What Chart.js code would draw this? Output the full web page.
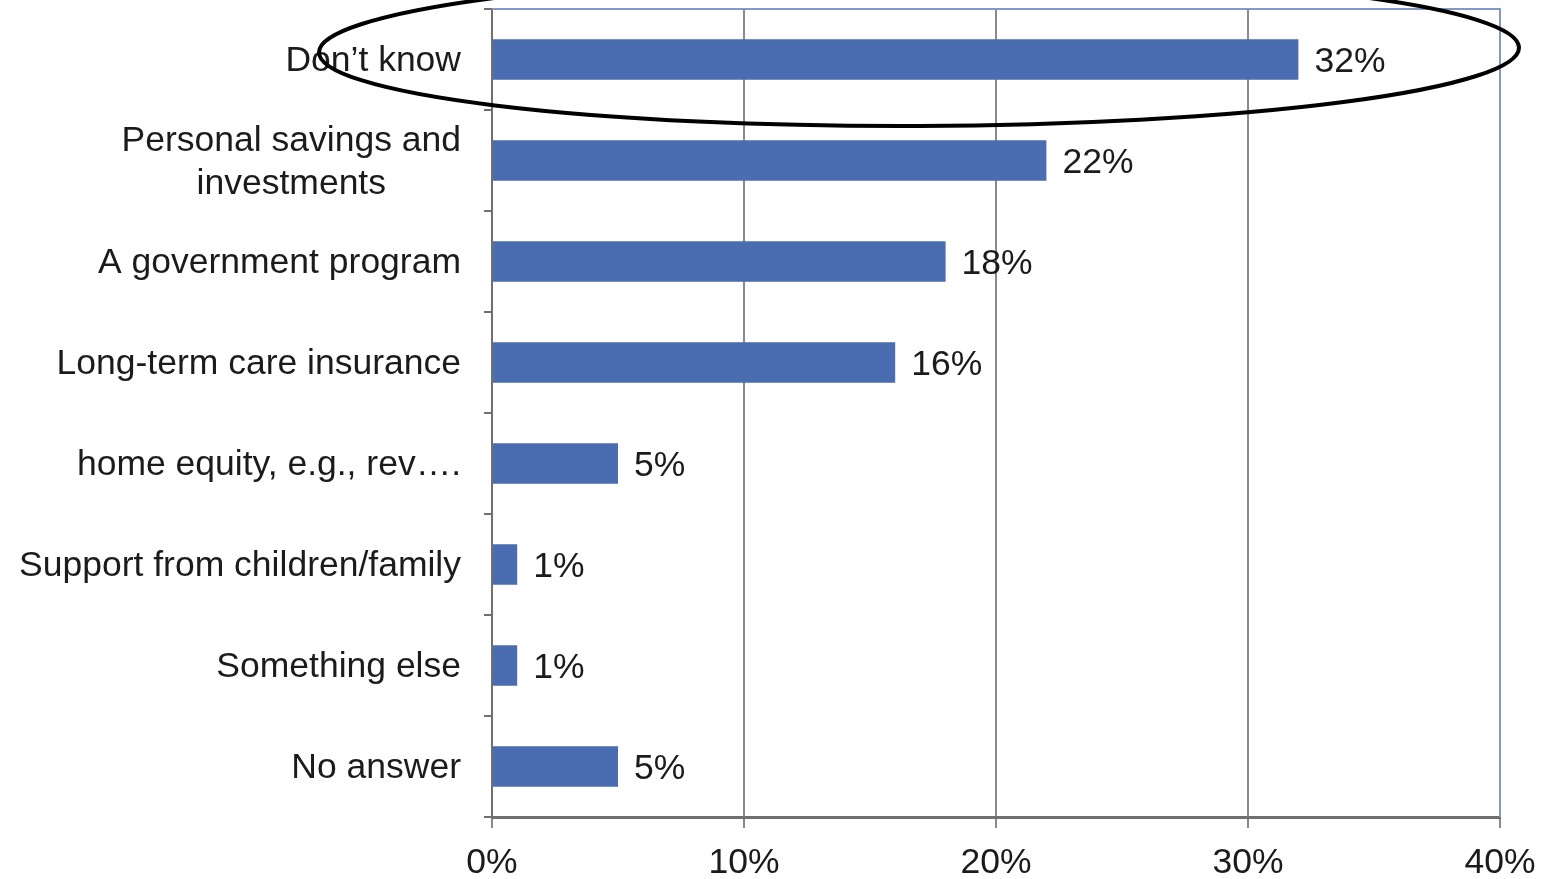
<!DOCTYPE html>
<html>
<head>
<meta charset="utf-8">
<script src="https://cdn.jsdelivr.net/npm/chart.js@4/dist/chart.umd.min.js"></script>
<style>
html,body{margin:0;padding:0;background:#fff;}
#wrap{width:1546px;height:879px;}
</style>
</head>
<body>
<div id="wrap"><canvas id="c" width="1546" height="879"></canvas></div>
<script>
const categories = [
  "Don’t know",
  ["Personal savings and", "investments"],
  "A government program",
  "Long-term care insurance",
  "home equity, e.g., rev….",
  "Support from children/family",
  "Something else",
  "No answer"
];
const values = [32, 22, 18, 16, 5, 1, 1, 5];
const xTicks = [0, 10, 20, 30, 40];

const FONT = "'Liberation Sans', Arial, sans-serif";
const FSIZE = 35.5;
const TEXT = "#1b1b1b";

const labelPlugin = {
  id: 'labels',
  afterDraw(chart) {
    const ctx = chart.ctx;
    const yScale = chart.scales.y;
    const meta = chart.getDatasetMeta(0);
    ctx.save();
    ctx.font = FSIZE + "px " + FONT;
    ctx.fillStyle = TEXT;
    ctx.textBaseline = 'middle';
    // value labels
    meta.data.forEach((bar, i) => {
      ctx.textAlign = 'left';
      ctx.fillText(values[i] + '%', bar.x + 16, bar.y + 3);
    });
    // category labels
    const rightEdge = yScale.left + yScale.width - 31;
    categories.forEach((lab, i) => {
      const yc = yScale.getPixelForValue(i);
      if (Array.isArray(lab)) {
        const widths = lab.map(l => ctx.measureText(l).width);
        const maxW = Math.max(...widths);
        const cx = rightEdge - maxW / 2;
        const lh = 43;
        const start = yc - (lab.length - 1) * lh / 2;
        ctx.textAlign = 'center';
        lab.forEach((l, k) => ctx.fillText(l, cx, start + k * lh + 2));
      } else {
        ctx.textAlign = 'right';
        ctx.fillText(lab, rightEdge, yc + 2);
      }
    });
    // top and right border
    const a = chart.chartArea;
    ctx.strokeStyle = '#8498c8';
    ctx.lineWidth = 2;
    ctx.beginPath();
    ctx.moveTo(a.left, a.top);
    ctx.lineTo(a.right, a.top);
    ctx.lineTo(a.right, a.bottom);
    ctx.stroke();
    // ellipse annotation
    ctx.strokeStyle = '#000';
    ctx.lineWidth = 4;
    ctx.beginPath();
    ctx.ellipse(919, 50, 600, 76, -0.004, 0, Math.PI * 2);
    ctx.stroke();
    ctx.restore();
  }
};

new Chart(document.getElementById('c'), {
  type: 'bar',
  data: {
    labels: categories,
    datasets: [{
      data: values,
      backgroundColor: '#4a6cb0',
      borderWidth: 0,
      barPercentage: 0.4,
      categoryPercentage: 1.0
    }]
  },
  options: {
    indexAxis: 'y',
    responsive: false,
    animation: false,
    layout: { padding: { top: 9, right: 46, left: 0, bottom: 0 } },
    plugins: { legend: { display: false }, tooltip: { enabled: false } },
    scales: {
      x: {
        min: 0, max: 40,
        afterBuildTicks(scale) { scale.ticks = xTicks.map(v => ({ value: v })); },
        afterFit(scale) { scale.height = 62; scale.paddingLeft = 0; scale.paddingRight = 0; },
        ticks: {
          callback: v => v + '%',
          font: { family: FONT, size: FSIZE },
          color: TEXT,
          padding: 14,
          maxRotation: 0
        },
        grid: {
          color: ctx => (ctx.tick && ctx.tick.value === 40) ? '#8498c8' : '#8a8a8a',
          lineWidth: 2,
          tickLength: 11,
          tickColor: '#8a8a8a'
        },
        border: { color: '#707070', width: 3 }
      },
      y: {
        afterFit(scale) { scale.width = 492; },
        ticks: { display: false },
        grid: {
          offset: true,
          drawOnChartArea: false,
          tickLength: 8,
          color: '#707070',
          lineWidth: 2
        },
        border: { color: '#707070', width: 2 }
      }
    }
  },
  plugins: [labelPlugin]
});
</script>
</body>
</html>
